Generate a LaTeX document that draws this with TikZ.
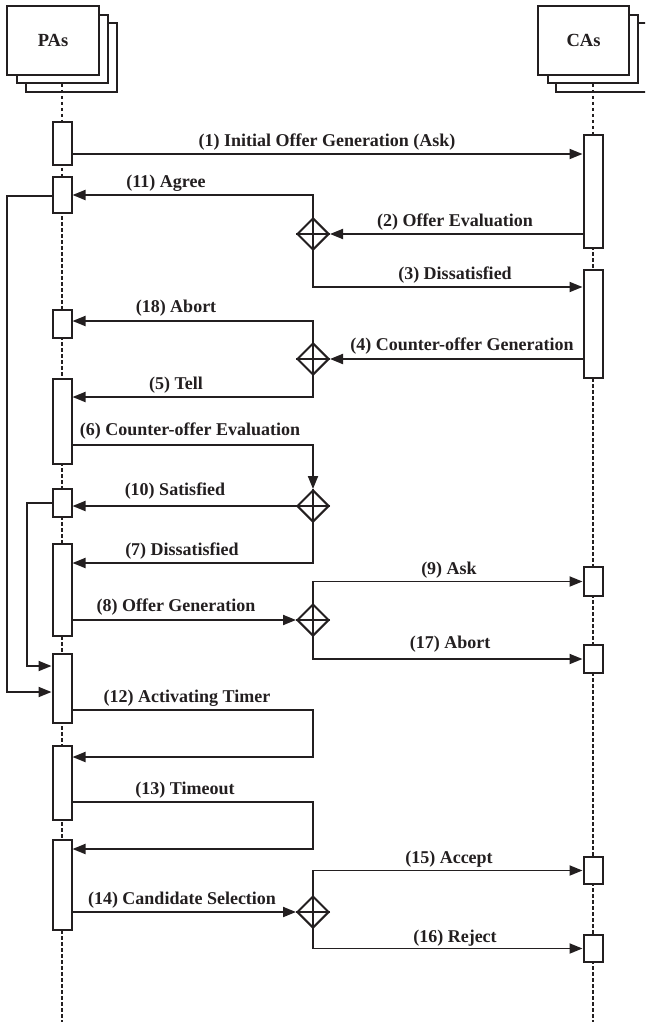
\documentclass[tikz,border=0pt]{standalone}
\usepackage{fontspec}
\setmainfont{Liberation Serif}
\usetikzlibrary{arrows.meta,shapes.geometric}
\definecolor{ink}{RGB}{35,31,32}
\begin{document}
\begin{tikzpicture}[x=1pt,y=-1pt,
  hdr/.style={draw=ink,line width=2pt,fill=white},
  life/.style={draw=ink,line width=2.4pt,dash pattern=on 3.5pt off 2.5pt},
  act/.style={draw=ink,line width=2pt,fill=white,minimum width=19pt,inner sep=0pt},
  dia/.style={draw=ink,line width=2pt,fill=white,shape=diamond,minimum width=32pt,minimum height=32pt,inner sep=0pt},
  arr/.style={draw=ink,line width=1.9pt,-{Triangle[length=13pt,width=10pt]}},
  ln/.style={draw=ink,line width=1.9pt},
  lbl/.style={text=ink,font=\fontsize{18}{20}\selectfont\bfseries,inner sep=0pt,anchor=base}]
\useasboundingbox (0,0) rectangle (645,1027);
\clip (0,0) rectangle (645,1027);
% header boxes
\draw[hdr] (26,23) rectangle (117,92);
\draw[hdr] (17,15) rectangle (108,83);
\node[hdr,minimum width=92pt,minimum height=69pt,inner sep=0pt,text=ink,font=\fontsize{18.5}{20}\selectfont\bfseries] (pas) at (53,40.5) {PAs};
\draw[hdr] (556,23) rectangle (660,92);
\draw[hdr] (548,15) rectangle (638,83);
\node[hdr,minimum width=91pt,minimum height=69pt,inner sep=0pt,text=ink,font=\fontsize{18.5}{20}\selectfont\bfseries] (cas) at (583.5,40.5) {CAs};
% lifelines
\coordinate (pend) at (62,1022);
\coordinate (cend) at (593,1022);
\draw[life] (62,84) -- (pend);
\draw[life] (593,84) -- (cend);
% PA activations
\node[act,minimum height=43pt] (pa1) at (62,143.5) {};
\node[act,minimum height=36pt] (pa2) at (62,195) {};
\node[act,minimum height=28pt] (pa3) at (62,324) {};
\node[act,minimum height=85pt] (pa4) at (62,421.5) {};
\node[act,minimum height=28pt] (pa5) at (62,503) {};
\node[act,minimum height=92pt] (pa6) at (62,590) {};
\node[act,minimum height=69pt] (pa7) at (62,688.5) {};
\node[act,minimum height=74pt] (pa8) at (62,783) {};
\node[act,minimum height=90pt] (pa9) at (62,885) {};
% CA activations
\node[act,minimum height=113pt] (ca1) at (593,191.5) {};
\node[act,minimum height=108pt] (ca2) at (593,324) {};
\node[act,minimum height=29pt] (ca3) at (593,581.5) {};
\node[act,minimum height=28pt] (ca4) at (593,659) {};
\node[act,minimum height=27pt] (ca5) at (593,870.5) {};
\node[act,minimum height=27pt] (ca6) at (593,948.5) {};
% diamonds
\foreach \n/\y in {d1/234,d2/359,d3/506,d4/620,d5/912}{
  \node[dia] (\n) at (313,\y) {};
  \draw[ln] (\n.north) -- (\n.south) (\n.west) -- (\n.east);
}
% connectors
\draw[arr] (pa1.east |- 0,154) -- (ca1.west |- 0,154);
\draw[arr] (d1.north) |- (pa2.east);
\draw[arr] (ca1.west |- d1) -- (d1.east);
\draw[arr] (d1.south) |- (ca2.west |- 0,287);
\draw[arr] (d2.north) |- (pa3.east |- 0,321);
\draw[arr] (ca2.west |- d2) -- (d2.east);
\draw[arr] (d2.south) |- (pa4.east |- 0,397);
\draw[arr] (pa4.east |- 0,445) -| (d3.north);
\draw[arr] (d3.west) -- (pa5.east |- d3);
\draw[arr] (d3.south) |- (pa6.east |- 0,563);
\draw[arr] (pa6.east |- d4) -- (d4.west);
\draw[arr] (d4.north) |- (ca3.west);
\draw[arr] (d4.south) |- (ca4.west);
\coordinate (r12) at (313,733);
\coordinate (r13) at (313,825);
\draw[arr] (pa7.east |- 0,710) -| (r12) |- (pa8.east |- 0,757);
\draw[arr] (pa8.east |- 0,802) -| (r13) |- (pa9.east |- 0,849);
\draw[arr] (pa9.east |- d5) -- (d5.west);
\draw[arr] (d5.north) |- (ca5.west);
\draw[arr] (d5.south) |- (ca6.west);
\coordinate (loop1) at (7,400);
\coordinate (loop2) at (27,600);
\draw[arr] (pa2.west |- 0,196) -| (loop1) |- (pa7.west |- 0,692);
\draw[arr] (pa5.west) -| (loop2) |- (pa7.west |- 0,666);
% labels
\node[lbl] (l1) at (327,147) {(1) Initial Offer Generation (Ask)};
\node[lbl] (l11) at (166,187) {(11) Agree};
\node[lbl] (l2) at (455,226) {(2) Offer Evaluation};
\node[lbl] (l3) at (455,279) {(3) Dissatisfied};
\node[lbl] (l18) at (176,312) {(18) Abort};
\node[lbl] (l4) at (462,350) {(4) Counter-offer Generation};
\node[lbl] (l5) at (176,389) {(5) Tell};
\node[lbl] (l6) at (190,435) {(6) Counter-offer Evaluation};
\node[lbl] (l10) at (175,495) {(10) Satisfied};
\node[lbl] (l7) at (182,555) {(7) Dissatisfied};
\node[lbl] (l8) at (176,611) {(8) Offer Generation};
\node[lbl] (l9) at (449,574) {(9) Ask};
\node[lbl] (l17) at (450,648) {(17) Abort};
\node[lbl] (l12) at (187,702) {(12) Activating Timer};
\node[lbl] (l13) at (185,794) {(13) Timeout};
\node[lbl] (l14) at (182,904) {(14) Candidate Selection};
\node[lbl] (l15) at (449,863) {(15) Accept};
\node[lbl] (l16) at (455,942) {(16) Reject};
\end{tikzpicture}
\end{document}
